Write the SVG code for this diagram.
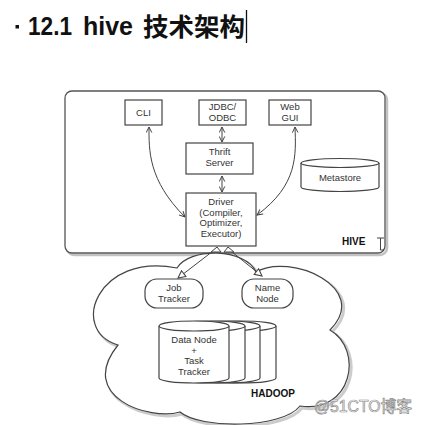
<svg xmlns="http://www.w3.org/2000/svg" width="422" height="425" viewBox="0 0 422 425">
<defs>
<style>
.box{fill:#fff;stroke:#444;stroke-width:1.2}
.t{font-family:"Liberation Sans",Arial,sans-serif;font-size:9.5px;fill:#333;text-anchor:middle}
.b{font-family:"Liberation Sans",Arial,sans-serif;font-size:10px;font-weight:bold;fill:#111}
.ln{fill:none;stroke:#444;stroke-width:1}
.shadow{fill:none;stroke:#999;stroke-width:2.5;opacity:0.6}
.ttl{font-family:"Liberation Sans",Arial,sans-serif;font-weight:bold;font-size:25.5px;fill:#111}
</style>
<marker id="ah" viewBox="0 0 10 10" refX="9" refY="5" markerWidth="7" markerHeight="7" orient="auto-start-reverse" markerUnits="userSpaceOnUse">
<path d="M1,1 L9,5 L1,9" fill="none" stroke="#444" stroke-width="1.4"/>
</marker>
<marker id="oh" viewBox="0 0 10 10" refX="9" refY="5" markerWidth="9" markerHeight="9" orient="auto" markerUnits="userSpaceOnUse">
<path d="M1,1 L9,5 L1,9 Z" fill="#fff" stroke="#444" stroke-width="1.2"/>
</marker>
</defs>
<rect width="422" height="425" fill="#fff"/>

<g id="title">
<rect x="15.5" y="25" width="3.5" height="3.5" fill="#111"/>
<text x="28" y="35" class="ttl" textLength="44" lengthAdjust="spacingAndGlyphs">12.1</text>
<text x="83" y="35" class="ttl" textLength="50" lengthAdjust="spacingAndGlyphs">hive</text>
<text x="143" y="36" font-family="'Noto Sans CJK SC',sans-serif" font-weight="bold" font-size="25" fill="#111" textLength="102" lengthAdjust="spacingAndGlyphs">技术架构</text>
<line x1="246.5" y1="10" x2="246.5" y2="43" stroke="#111" stroke-width="1.3"/>
</g>

<g id="hive">
<rect x="67" y="93" width="320" height="162" rx="7" class="shadow"/>
<rect x="65" y="91" width="320" height="162" rx="7" fill="#fff" stroke="#555" stroke-width="1.3"/>
<text x="342" y="245" class="b">HIVE</text>
<path d="M377,238 H384 M380.5,238 V250 H384" class="ln"/>
</g>

<g id="cli"><rect x="125" y="100" width="37" height="25" class="box"/><text x="143.5" y="116" class="t">CLI</text></g>
<g id="jdbc"><rect x="199" y="100" width="47" height="25" class="box"/><text x="222.5" y="110" class="t">JDBC/</text><text x="222.5" y="120.5" class="t">ODBC</text></g>
<g id="web"><rect x="269" y="100" width="42" height="25" class="box"/><text x="290" y="110" class="t">Web</text><text x="290" y="120.5" class="t">GUI</text></g>
<g id="thrift"><rect x="186" y="143" width="67" height="31" class="box"/><text x="219.5" y="155" class="t">Thrift</text><text x="219.5" y="166" class="t">Server</text></g>
<g id="driver"><rect x="186" y="193" width="70" height="53" class="box"/>
<text x="221" y="205" class="t">Driver</text><text x="221" y="215.5" class="t">(Compiler,</text><text x="221" y="226" class="t">Optimizer,</text><text x="221" y="236.5" class="t">Executor)</text></g>
<g id="metastore">
<path d="M301,163 V187 A39,4.5 0 0 0 379,187 V163" class="box"/>
<ellipse cx="340" cy="163" rx="39" ry="4.5" class="box"/>
<text x="340" y="181" class="t">Metastore</text>
</g>

<g id="hadoop">
<path d="M177,268 C190,247 245,248 256,272 C290,252 372,288 330,330 C364,350 352,414 300,406 C282,429 200,429 180,412 C150,421 76,397 118,345 C68,330 98,252 177,268 Z" fill="none" stroke="#aaa" stroke-width="3" transform="translate(2,2)" opacity="0.6"/>
<path d="M177,268 C190,247 245,248 256,272 C290,252 372,288 330,330 C364,350 352,414 300,406 C282,429 200,429 180,412 C150,421 76,397 118,345 C68,330 98,252 177,268 Z" fill="#fff" stroke="#444" stroke-width="1.2"/>
<text x="251" y="397" class="b">HADOOP</text>
</g>
<g id="jobtracker"><rect x="145" y="279" width="58" height="29" rx="12" class="box"/><text x="174" y="291" class="t">Job</text><text x="174" y="302" class="t">Tracker</text></g>
<g id="namenode"><rect x="242" y="279" width="51" height="29" rx="12" class="box"/><text x="267.5" y="291" class="t">Name</text><text x="267.5" y="302" class="t">Node</text></g>
<g id="datanode">
<path d="M206,326 V378 A35,5 0 0 0 276,378 V326" class="box"/><ellipse cx="241" cy="326" rx="35" ry="5" class="box"/>
<path d="M190,326 V378 A35,5 0 0 0 260,378 V326" class="box"/><ellipse cx="225" cy="326" rx="35" ry="5" class="box"/>
<path d="M175,326 V378 A35,5 0 0 0 245,378 V326" class="box"/><ellipse cx="210" cy="326" rx="35" ry="5" class="box"/>
<path d="M159,326 V378 A35,5 0 0 0 229,378 V326" class="box"/><ellipse cx="194" cy="326" rx="35" ry="5" class="box"/>
<text x="194" y="343" class="t">Data Node</text><text x="194" y="354" class="t">+</text><text x="194" y="364" class="t">Task</text><text x="194" y="375" class="t">Tracker</text>
</g>

<g id="connectors">
<path d="M149,127 C149,150 148,180 185,217" class="ln" marker-start="url(#ah)" marker-end="url(#ah)"/>
<path d="M295,127 C296,155 298,185 257,215" class="ln" marker-start="url(#ah)" marker-end="url(#ah)"/>
<line x1="222" y1="127" x2="222" y2="142" class="ln" marker-start="url(#ah)" marker-end="url(#ah)"/>
<line x1="222" y1="176" x2="222" y2="192" class="ln" marker-start="url(#ah)" marker-end="url(#ah)"/>
<line x1="217" y1="248" x2="178" y2="278" class="ln" marker-end="url(#oh)"/>
<line x1="227" y1="248" x2="262" y2="276" class="ln" marker-end="url(#oh)"/>
<path d="M211,252 L217,247 L221,252 Z" fill="#fff" stroke="#444" stroke-width="1"/>
<path d="M224,252 L228,247 L234,252 Z" fill="#fff" stroke="#444" stroke-width="1"/>
</g>

<text x="314" y="412" font-family="'Liberation Sans',Arial,'Noto Sans CJK SC',sans-serif" font-size="16" fill="#fff" stroke="#888" stroke-width="0.7" textLength="98" lengthAdjust="spacingAndGlyphs">@51CTO<tspan font-family="'Noto Sans CJK SC',sans-serif">博客</tspan></text>
</svg>
